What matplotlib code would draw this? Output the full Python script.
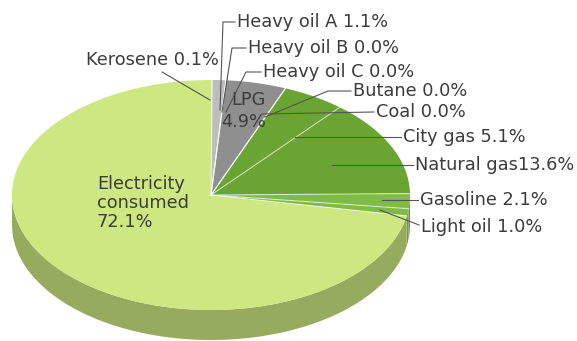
import numpy as np
import matplotlib.pyplot as plt
from matplotlib.patches import Polygon

# shares of energy use (%), clockwise from 12 o'clock
labels = ["Kerosene", "Heavy oil A", "Heavy oil B", "Heavy oil C", "LPG",
          "Butane", "Coal", "City gas", "Natural gas", "Gasoline",
          "Light oil", "Electricity consumed"]
values = [0.1, 1.1, 0.0, 0.0, 4.9, 0.0, 0.0, 5.1, 13.6, 2.1, 1.0, 72.1]
top_colors = ["#e4e4e4", "#bdbdbd", "#a8a8a8", "#a0a0a0", "#8f8f8f",
              "#6aa432", "#6aa432", "#6aa432", "#6aa432", "#80bb45",
              "#80bb45", "#cde881"]
side_colors = ["#b0b0b0", "#909090", "#808080", "#787878", "#6a6a6a",
               "#4f7a25", "#4f7a25", "#4f7a25", "#4f7a25", "#6a9a3a",
               "#7f9a48", "#97ab5e"]

cx, cy = 211, 195      # pie centre (pixels)
rx, ry = 199, 115      # ellipse radii
depth = 30             # thickness of the disc


def pt(theta, dy=0):
    return cx + rx * np.sin(theta), cy - ry * np.cos(theta) + dy


fig = plt.figure(figsize=(5.77, 3.41), dpi=100)
ax = fig.add_axes([0, 0, 1, 1])
ax.set_xlim(0, 577)
ax.set_ylim(341, 0)
ax.axis("off")

bounds = np.concatenate([[0], np.cumsum(values)]) / 100 * 2 * np.pi

# side walls (only the front half is visible)
for i in range(len(values)):
    a, b = max(bounds[i], np.pi / 2), min(bounds[i + 1], 3 * np.pi / 2)
    if b <= a:
        continue
    t = np.linspace(a, b, 200)
    x, y = pt(t)
    xs = np.concatenate([x, x[::-1]])
    ys = np.concatenate([y, y[::-1] + depth])
    ax.add_patch(Polygon(np.column_stack([xs, ys]), closed=True,
                         facecolor=side_colors[i], edgecolor="none"))

# top face
for i in range(len(values)):
    if values[i] == 0:
        continue
    t = np.linspace(bounds[i], bounds[i + 1], 400)
    x, y = pt(t)
    xs = np.concatenate([[cx], x])
    ys = np.concatenate([[cy], y])
    ax.add_patch(Polygon(np.column_stack([xs, ys]), closed=True,
                         facecolor=top_colors[i], edgecolor="none"))

# faint separators between slices
for b in bounds[1:-1]:
    x, y = pt(b)
    ax.plot([cx, x], [cy, y], color="white", lw=0.8, alpha=0.6)

txt = dict(fontsize=12.8, color="#3c3c3c", family="DejaVu Sans", va="center")
lc = dict(color="#555555", lw=0.8)

# label text, leader line points
outside = [
    (0, 86, 60, [(162, 72), (210, 100)]),
    (1, 237, 22, [(235, 22), (223, 22), (220, 110)]),
    (2, 248, 48, [(246, 48), (232, 48), (222, 112)]),
    (3, 263, 72, [(261, 72), (246, 72), (226, 112)]),
    (5, 353, 91, [(351, 91), (328, 91), (265, 117)]),
    (6, 376, 112, [(374, 112), (262, 114)]),
    (7, 403, 137, [(401, 137), (295, 137)]),
    (8, 415, 165, [(413, 165), (332, 165)]),
    (9, 420, 200, [(418, 200), (382, 200)]),
    (10, 421, 227, [(419, 225), (380, 210)]),
]
for i, tx, ty, line in outside:
    sep = "" if labels[i] == "Natural gas" else " "
    ax.text(tx, ty, f"{labels[i]}{sep}{values[i]:.1f}%", ha="left", **txt)
    xs, ys = zip(*line)
    ax.plot(xs, ys, **lc)

ax.text(266, 111, f"LPG\n{values[4]:.1f}%", ha="right", multialignment="right",
        linespacing=1.22, **txt)
ax.text(97, 203, f"Electricity\nconsumed\n{values[11]:.1f}%", ha="left",
        linespacing=1.05, **txt)

fig.savefig("out.png", dpi=100)
